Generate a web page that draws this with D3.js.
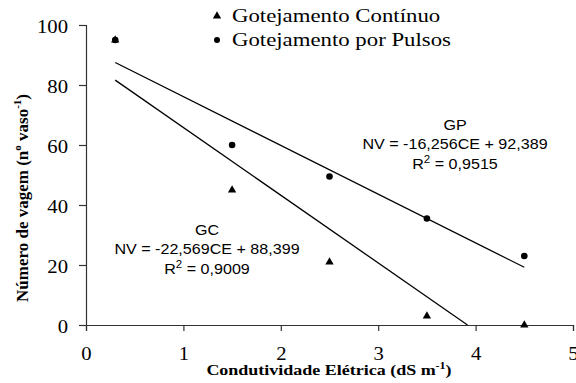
<!DOCTYPE html>
<html>
<head>
<meta charset="utf-8">
<script src="https://cdn.jsdelivr.net/npm/d3@7"></script>
<style>
  body { margin: 0; background: #fff; }
  svg { display: block; }
</style>
</head>
<body>
<svg id="chart" width="576" height="383"></svg>
<script>
var xTicks = [0, 1, 2, 3, 4, 5],
    yTicks = [0, 20, 40, 60, 80, 100],
    ceValues = [0.3, 1.5, 2.5, 3.5, 4.5],
    gcValues = [95, 45, 21, 3, 0],
    gpValues = [95, 60, 49.5, 35.5, 23],
    gcFit = { a: -22.569, b: 88.399, x0: 0.3, x1: 3.917 },
    gpFit = { a: -16.256, b: 92.389, x0: 0.3, x1: 4.5 },
    legendLabels = ["Gotejamento Contínuo", "Gotejamento por Pulsos"];

var svg = d3.select("#chart"),
    plotLeft = 86, plotRight = 573, plotTop = 25, plotBottom = 325,
    serif = "'Liberation Serif', 'Times New Roman', serif",
    sans = "'Liberation Sans', Arial, sans-serif";

var x = d3.scaleLinear().domain([0, 5]).range([plotLeft, plotRight]),
    y = d3.scaleLinear().domain([0, 100]).range([plotBottom, plotTop]);

// the original picture is a bit wider than tall, so text is stretched sideways
function stretch(text, k, px, py) {
    text.attr("x", null).attr("y", null)
        .attr("transform", "translate(" + px + "," + py + ") scale(" + k + ",1)");
}

var xAxis = svg.append("g")
    .attr("transform", "translate(0," + plotBottom + ")")
    .call(d3.axisBottom(x).tickValues(xTicks).tickSize(6).tickFormat(d3.format("d")));

var yAxis = svg.append("g")
    .attr("transform", "translate(" + plotLeft + ",0)")
    .call(d3.axisLeft(y).tickValues(yTicks).tickSize(7).tickFormat(d3.format("d")));

[xAxis, yAxis].forEach(function (g) {
    g.select(".domain").attr("stroke", "#333").attr("stroke-width", 1.2);
    g.selectAll(".tick line").attr("stroke", "#333").attr("stroke-width", 1.2);
    g.selectAll("text").attr("font-family", serif).attr("font-size", 18).attr("fill", "#000").attr("dy", null);
});
xAxis.selectAll(".tick text").each(function () { stretch(d3.select(this), 1.15, 0, 35); });
yAxis.selectAll(".tick text").each(function () { stretch(d3.select(this), 1.15, -18, 7); });

// trend lines
[gcFit, gpFit].forEach(function (f) {
    svg.append("line")
        .attr("x1", x(f.x0)).attr("y1", y(f.a * f.x0 + f.b))
        .attr("x2", x(f.x1)).attr("y2", y(f.a * f.x1 + f.b))
        .attr("stroke", "#000").attr("stroke-width", 1.3);
});

var tri = d3.symbol().type(d3.symbolTriangle).size(30);

svg.selectAll(".gc").data(ceValues).enter().append("path")
    .attr("class", "gc")
    .attr("d", tri)
    .attr("transform", function (d, i) { return "translate(" + x(d) + "," + y(gcValues[i]) + ")"; })
    .attr("fill", "#000");

svg.selectAll(".gp").data(ceValues).enter().append("circle")
    .attr("class", "gp")
    .attr("cx", function (d) { return x(d); })
    .attr("cy", function (d, i) { return y(gpValues[i]); })
    .attr("r", 3.3)
    .attr("fill", "#000");

// legend
var legend = svg.append("g").attr("transform", "translate(217,0)");
legend.append("path").attr("d", tri).attr("transform", "translate(0,16)").attr("fill", "#000");
legend.append("circle").attr("cx", 0).attr("cy", 40).attr("r", 3).attr("fill", "#000");
legendLabels.forEach(function (t, i) {
    var txt = legend.append("text")
        .attr("font-family", serif).attr("font-size", 19)
        .text(t);
    stretch(txt, 1.2, 15, 22 + i * 24);
});

// equations
function equation(cx, cy, name, eq, r2) {
    var g = svg.append("g").attr("font-family", sans).attr("font-size", 14).attr("text-anchor", "middle");
    stretch(g.append("text").text(name), 1.15, cx, cy);
    stretch(g.append("text").text(eq), 1.15, cx, cy + 19);
    var t = g.append("text");
    t.append("tspan").text("R");
    t.append("tspan").attr("font-size", 10).attr("dy", -6).text("2");
    t.append("tspan").attr("dy", 6).text(" = " + r2);
    stretch(t, 1.15, cx, cy + 39);
}
equation(455, 130, "GP", "NV = -16,256CE + 92,389", "0,9515");
equation(207, 235, "GC", "NV = -22,569CE + 88,399", "0,9009");

// axis titles
var xt = svg.append("text")
    .attr("text-anchor", "middle")
    .attr("font-family", serif).attr("font-size", 15).attr("font-weight", "bold");
xt.append("tspan").text("Condutividade Elétrica (dS m");
xt.append("tspan").attr("font-size", 10).attr("dy", -6).text("-1");
xt.append("tspan").attr("dy", 6).text(")");
stretch(xt, 1.2, 329, 375);

var yt = svg.append("text")
    .attr("transform", "translate(28,198) rotate(-90)")
    .attr("text-anchor", "middle")
    .attr("font-family", serif).attr("font-size", 17).attr("font-weight", "bold");
yt.append("tspan").text("Número de vagem (n");
yt.append("tspan").attr("font-size", 11).attr("dy", -7).text("o");
yt.append("tspan").attr("dy", 7).text(" vaso");
yt.append("tspan").attr("font-size", 11).attr("dy", -7).text("-1");
yt.append("tspan").attr("dy", 7).text(")");
</script>
</body>
</html>
